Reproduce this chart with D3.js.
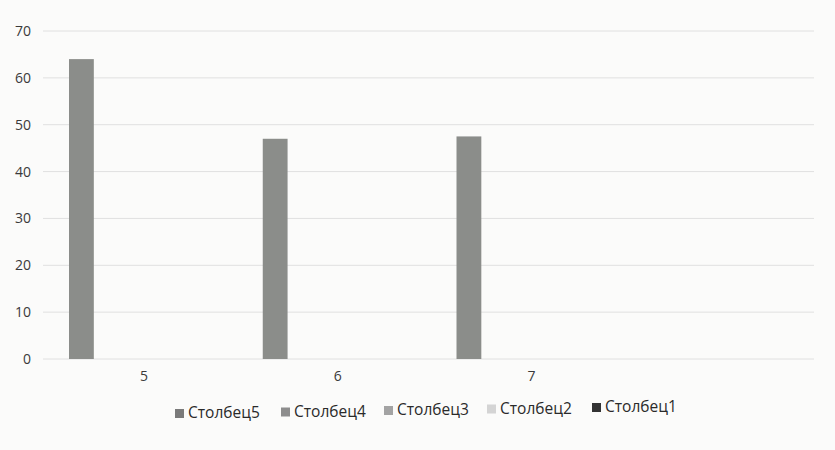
<!DOCTYPE html>
<html><head><meta charset="utf-8">
<script src="https://cdn.jsdelivr.net/npm/d3@7"></script>
<style>body{margin:0;background:#fbfbfa}svg{display:block}</style>
</head><body>
<svg id="c" width="835" height="450"></svg>
<script>
const categories = ["5", "6", "7", ""];
const seriesNames = ["Столбец5", "Столбец4", "Столбец3", "Столбец2", "Столбец1"];
const stolbec5 = [64, 47, 47.5, 0];
const stolbec4 = [0, 0, 0, 0];
const stolbec3 = [0, 0, 0, 0];
const stolbec2 = [0, 0, 0, 0];
const stolbec1 = [0, 0, 0, 0];
const yTicks = [0, 10, 20, 30, 40, 50, 60, 70];
const colors = ["#8b8d8a", "#8d8d8d", "#a3a3a3", "#d4d4d4", "#3a3a3a"];
const legendColors = ["#7a7a7a", "#8d8d8d", "#a3a3a3", "#d4d4d4", "#333333"];

const seriesValues = [stolbec5, stolbec4, stolbec3, stolbec2, stolbec1];
const svg = d3.select("#c");
const plotLeft = 49, plotRight = 824, plotTop = 31, plotBottom = 359;

const x0 = d3.scaleBand().domain(categories.map((d, i) => i)).range([plotLeft, plotRight]);
const x1 = d3.scaleBand().domain(seriesNames).range([20, x0.bandwidth() - 20]).paddingInner(0.23);
const y = d3.scaleLinear().domain([0, 70]).range([plotBottom, plotTop]);

// gridlines
svg.append("g").selectAll("line").data(yTicks).join("line")
  .attr("x1", plotLeft - 6).attr("x2", plotRight - 10)
  .attr("y1", d => y(d)).attr("y2", d => y(d))
  .attr("stroke", "#e0e0e0").attr("stroke-width", 1);

// y axis labels
const yAxis = d3.axisLeft(y).tickValues(yTicks).tickSize(0).tickPadding(0);
const gy = svg.append("g").attr("transform", `translate(${plotLeft - 18},0)`).call(yAxis);
gy.select(".domain").remove();
gy.selectAll("text").attr("font-family", "'Open Sans', 'Noto Sans', sans-serif")
  .attr("font-size", 14).attr("fill", "#3a3a3a");

// bars
seriesNames.forEach((name, si) => {
  svg.append("g").selectAll("rect").data(seriesValues[si]).join("rect")
    .attr("x", (d, i) => x0(i) + x1(name))
    .attr("width", x1.bandwidth())
    .attr("y", d => y(d))
    .attr("height", d => y(0) - y(d))
    .attr("fill", colors[si]);
});

// x axis labels
const xAxis = d3.axisBottom(x0).tickFormat(i => categories[i]).tickSize(0).tickPadding(0);
const gx = svg.append("g").attr("transform", `translate(-2,${plotBottom + 12})`).call(xAxis);
gx.select(".domain").remove();
gx.selectAll("text").attr("font-family", "'Open Sans', 'Noto Sans', sans-serif")
  .attr("font-size", 14).attr("fill", "#3a3a3a");

// legend
const legendX = [175, 281, 384, 487, 592];
const lg = svg.append("g");
seriesNames.forEach((name, i) => {
  const g = lg.append("g").attr("transform", `translate(${legendX[i]},${418 - i * 1.5})`);
  g.append("rect").attr("x", 0).attr("y", -9).attr("width", 9).attr("height", 9).attr("fill", legendColors[i]);
  g.append("text").attr("x", 13).attr("y", 0)
    .attr("font-family", "'Open Sans', 'Noto Sans', sans-serif").attr("font-size", 15.5)
    .attr("fill", "#2a2a2a").text(name);
});
</script>
</body></html>
